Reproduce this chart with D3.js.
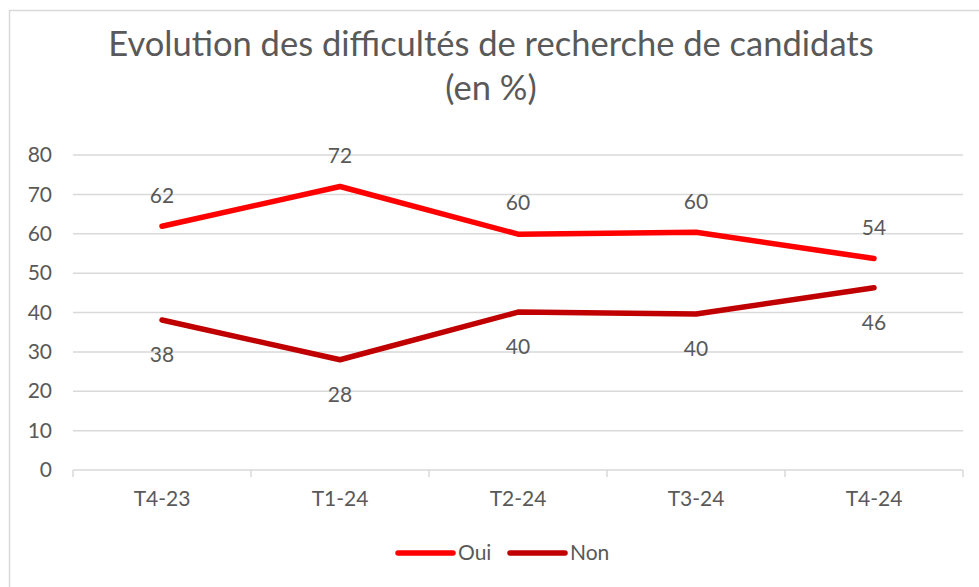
<!DOCTYPE html>
<html>
<head>
<meta charset="utf-8">
<script src="https://cdn.jsdelivr.net/npm/d3@7"></script>
<style>
  body { margin: 0; background: #fff; }
  svg { display: block; font-family: Lato, "Open Sans", sans-serif; }
</style>
</head>
<body>
<svg id="chart" width="979" height="587"></svg>
<script>
// chart data
var categories = ["T4-23", "T1-24", "T2-24", "T3-24", "T4-24"];
var oui = [61.9, 72.0, 59.9, 60.4, 53.7];
var non = [38.1, 28.0, 40.1, 39.6, 46.3];
var yTicks = [0, 10, 20, 30, 40, 50, 60, 70, 80];
var seriesNames = ["Oui", "Non"];
var seriesColors = ["#ff0000", "#c00000"];

var svg = d3.select("#chart");
var textColor = "#595959";
var gridColor = "#d9d9d9";
var fontSize = 21;

// plot area
var plotLeft = 73, plotRight = 963, plotTop = 155, plotBottom = 470;

var x = d3.scaleBand().domain(categories).range([plotLeft, plotRight]);
var y = d3.scaleLinear().domain([0, 80]).range([plotBottom, plotTop]);

// outer frame (only left and top show in the crop)
svg.append("path")
   .attr("d", "M9.5,587 L9.5,10.5 L979,10.5")
   .attr("fill", "none")
   .attr("stroke", gridColor)
   .attr("stroke-width", 1.5);

// title
var title = svg.append("text")
   .attr("text-anchor", "middle")
   .attr("fill", textColor)
   .attr("font-size", 34.5);
title.append("tspan").attr("x", 491).attr("y", 56)
     .text("Evolution des difficultés de recherche de candidats");
title.append("tspan").attr("x", 491).attr("y", 100).text("(en %)");

// horizontal grid lines
svg.append("g").selectAll("line")
   .data(yTicks)
   .enter()
   .append("line")
   .attr("x1", plotLeft).attr("x2", plotRight)
   .attr("y1", function(d){ return y(d); })
   .attr("y2", function(d){ return y(d); })
   .attr("stroke", gridColor)
   .attr("stroke-width", 1.5);

// y axis labels
var yAxis = svg.append("g")
   .attr("transform", "translate(" + plotLeft + ",0)")
   .call(d3.axisLeft(y).tickValues(yTicks).tickSize(0).tickPadding(21));
yAxis.select(".domain").remove();
yAxis.selectAll("text")
   .attr("fill", textColor)
   .attr("font-size", fontSize)
   .attr("font-family", "Lato, 'Open Sans', sans-serif");

// x axis labels
var xAxis = svg.append("g")
   .attr("transform", "translate(0," + plotBottom + ")")
   .call(d3.axisBottom(x).tickSize(0).tickPadding(21));
xAxis.select(".domain").remove();
xAxis.selectAll("text")
   .attr("fill", textColor)
   .attr("font-size", fontSize)
   .attr("font-family", "Lato, 'Open Sans', sans-serif");

// tick marks at band edges
var edges = categories.map(function(c){ return x(c); }).concat([plotRight]);
svg.append("g").selectAll("line")
   .data(edges)
   .enter()
   .append("line")
   .attr("x1", function(d){ return d; })
   .attr("x2", function(d){ return d; })
   .attr("y1", plotBottom).attr("y2", plotBottom + 7)
   .attr("stroke", gridColor)
   .attr("stroke-width", 1.5);

// lines
var line = d3.line()
   .x(function(d, i){ return x(categories[i]) + x.bandwidth() / 2; })
   .y(function(d){ return y(d); });

var allSeries = [oui, non];
var labelOffset = [-31, 35];

allSeries.forEach(function(values, s){
    svg.append("path")
       .datum(values)
       .attr("d", line)
       .attr("fill", "none")
       .attr("stroke", seriesColors[s])
       .attr("stroke-width", 5.5)
       .attr("stroke-linecap", "round")
       .attr("stroke-linejoin", "round");

    svg.append("g").selectAll("text")
       .data(values)
       .enter()
       .append("text")
       .attr("x", function(d, i){ return x(categories[i]) + x.bandwidth() / 2; })
       .attr("y", function(d){ return y(d) + labelOffset[s]; })
       .attr("dy", "0.35em")
       .attr("text-anchor", "middle")
       .attr("fill", textColor)
       .attr("font-size", fontSize)
       .text(function(d){ return Math.round(d); });
});

// legend
var legendX = [398, 510];
seriesNames.forEach(function(name, s){
    var g = svg.append("g").attr("transform", "translate(" + legendX[s] + ",553)");
    g.append("line")
     .attr("x1", 0).attr("x2", 55)
     .attr("stroke", seriesColors[s])
     .attr("stroke-width", 5.5)
     .attr("stroke-linecap", "round");
    g.append("text")
     .attr("x", 60)
     .attr("dy", "0.35em")
     .attr("fill", textColor)
     .attr("font-size", fontSize)
     .text(name);
});
</script>
</body>
</html>
